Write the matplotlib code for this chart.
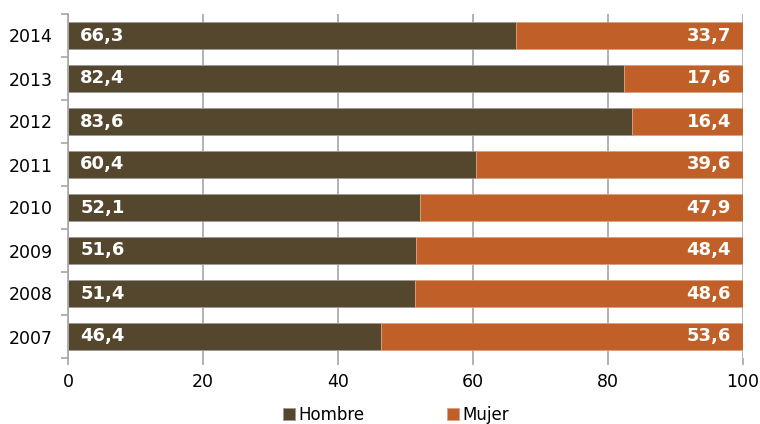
import matplotlib
matplotlib.use("Agg")
import matplotlib.pyplot as plt
import numpy as np

years = ["2007", "2008", "2009", "2010", "2011", "2012", "2013", "2014"]
hombre = [46.4, 51.4, 51.6, 52.1, 60.4, 83.6, 82.4, 66.3]
mujer = [53.6, 48.6, 48.4, 47.9, 39.6, 16.4, 17.6, 33.7]
series_names = ["Hombre", "Mujer"]
xticks = [0, 20, 40, 60, 80, 100]

c_h = "#54472E"
c_m = "#C05F27"
grid_c = "#A6A6A6"

plt.rcParams["font.family"] = ["DejaVu Sans"]

fig = plt.figure(figsize=(7.6, 4.24), dpi=100)
ax = fig.add_axes([68/760, 1-358/424, (743-68)/760, (358-14)/424])

y = np.arange(len(years))
h = 0.65
b1 = ax.barh(y, hombre, height=h, color=c_h, edgecolor="#9a9a9a", linewidth=0.6, label=series_names[0], zorder=2)
b2 = ax.barh(y, mujer, left=hombre, height=h, color=c_m, edgecolor="#d9a080", linewidth=0.6, label=series_names[1], zorder=2)

for i in range(len(years)):
    ax.text(1.8, y[i], f"{hombre[i]:.1f}".replace(".", ","), color="white", fontweight="bold",
            fontsize=13, va="center", ha="left", zorder=3)
    ax.text(98.2, y[i], f"{mujer[i]:.1f}".replace(".", ","), color="white", fontweight="bold",
            fontsize=13, va="center", ha="right", zorder=3)

ax.set_xlim(0, 100)
ax.set_ylim(-0.5, len(years) - 0.5)
ax.set_xticks(xticks)
ax.set_xticklabels([str(v) for v in xticks], fontsize=12.5)
ax.set_yticks(y)
ax.set_yticklabels(years, fontsize=12.5)
ax.set_yticks(np.arange(-0.5, len(years), 1), minor=True)
ax.tick_params(axis="y", which="major", length=0, pad=11)
ax.tick_params(axis="y", which="minor", length=5, color=grid_c, width=1.2)
ax.tick_params(axis="x", length=5, color=grid_c, width=1.2, pad=6)
ax.xaxis.grid(True, color=grid_c, linewidth=1.2, zorder=0)
ax.set_axisbelow(True)
for s in ["top", "right", "bottom"]:
    ax.spines[s].set_visible(False)
ax.spines["left"].set_color(grid_c)
ax.spines["left"].set_linewidth(1.2)

fig.legend(handles=[b1, b2], labels=series_names, loc="center", bbox_to_anchor=(396/760, 1-415/424),
           ncol=2, frameon=False, fontsize=12, handlelength=0.75, handleheight=0.75, handletextpad=0.2,
           columnspacing=4.9)

fig.savefig("out.png", dpi=100)
